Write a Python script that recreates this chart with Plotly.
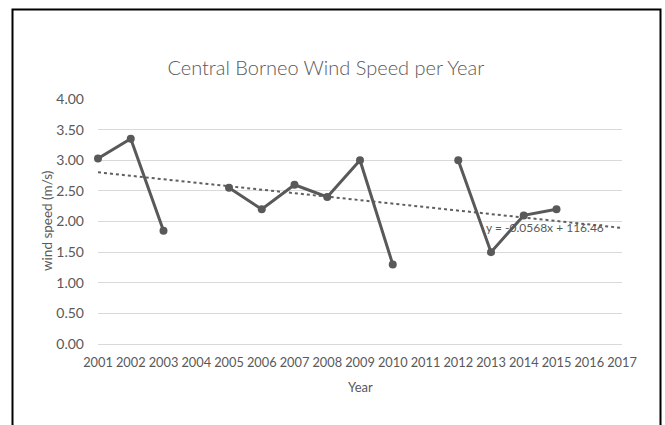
import plotly.graph_objects as go

# ---- data ----
years = [2001, 2002, 2003, 2004, 2005, 2006, 2007, 2008, 2009,
         2010, 2011, 2012, 2013, 2014, 2015, 2016, 2017]
wind_speed = [3.03, 3.35, 1.85, None, 2.55, 2.20, 2.60, 2.40, 3.00,
              1.30, None, 3.00, 1.50, 2.10, 2.20, None, None]
trend_slope = -0.0568
trend_intercept = 116.46
trend_label = "y = -0.0568x + 116.46"
y_ticks = [0, 0.5, 1, 1.5, 2, 2.5, 3, 3.5, 4]
y_tick_text = ["0.00", "0.50", "1.00", "1.50", "2.00", "2.50", "3.00", "3.50", "4.00"]

trend_y = [trend_slope * yr + trend_intercept for yr in years]

FONT = "Lato, 'Liberation Sans', sans-serif"
TXT = "#595959"

fig = go.Figure()
fig.add_trace(go.Scatter(
    x=years, y=trend_y, mode="lines",
    line=dict(color="#5f5f5f", width=2, dash="dot"),
    hoverinfo="skip", showlegend=False, cliponaxis=False))
fig.add_trace(go.Scatter(
    x=years, y=wind_speed, mode="lines+markers", connectgaps=False,
    line=dict(color="#595959", width=3),
    marker=dict(color="#595959", size=8),
    showlegend=False, cliponaxis=False))

L, R, T, B = 98, 43, 99, 81
W, H = 665, 425
pw, ph = W - L - R, H - T - B

def px(xp):
    return (xp - L) / pw

def py(yp):
    return (H - B - yp) / ph

fig.update_layout(
    width=W, height=H,
    margin=dict(l=L, r=R, t=T, b=B, pad=0),
    paper_bgcolor="white", plot_bgcolor="white",
    font=dict(family=FONT, color=TXT, size=12),
    title=dict(text="Central Borneo Wind Speed per Year",
               x=0.49, xref="container", xanchor="center",
               y=1 - 68 / H, yref="container", yanchor="middle",
               font=dict(family=FONT, size=20, color=TXT, weight=300)),
    xaxis=dict(range=[2001, 2017], tickmode="array", tickvals=years,
               ticktext=[str(y) for y in years], showgrid=False,
               zeroline=False, showline=False, ticks="", tickangle=0,
               ticklabelstandoff=9, tickfont=dict(size=12.8, color=TXT)),
    yaxis=dict(range=[0, 4], tickmode="array", tickvals=y_ticks,
               ticktext=y_tick_text, showgrid=True, gridcolor="#d9d9d9",
               gridwidth=1, zeroline=True, zerolinecolor="#d9d9d9",
               zerolinewidth=1, showline=False, ticks="",
               ticklabelstandoff=13, tickfont=dict(size=14, color=TXT)),
    shapes=[dict(type="rect", xref="paper", yref="paper",
                 x0=px(12.5), x1=px(660.5), y0=py(440), y1=py(9.5),
                 line=dict(color="black", width=2), layer="above")],
    annotations=[
        dict(text="wind speed (m/s)", xref="paper", yref="paper",
             x=px(47), y=py(221), textangle=-90, showarrow=False,
             xanchor="center", yanchor="middle",
             font=dict(family=FONT, size=13.5, color=TXT)),
        dict(text="Year", xref="paper", yref="paper",
             x=px(360), y=py(387), showarrow=False,
             xanchor="center", yanchor="middle",
             font=dict(family=FONT, size=13, color=TXT)),
        dict(text=trend_label, xref="x", yref="y",
             x=2014.65, y=(H - B - 227) / ph * 4, showarrow=False,
             xanchor="center", yanchor="middle",
             font=dict(family=FONT, size=12, color=TXT)),
    ],
)

fig.write_html("out.html", config={"displayModeBar": False},
               post_script="document.body.style.margin='0';")
